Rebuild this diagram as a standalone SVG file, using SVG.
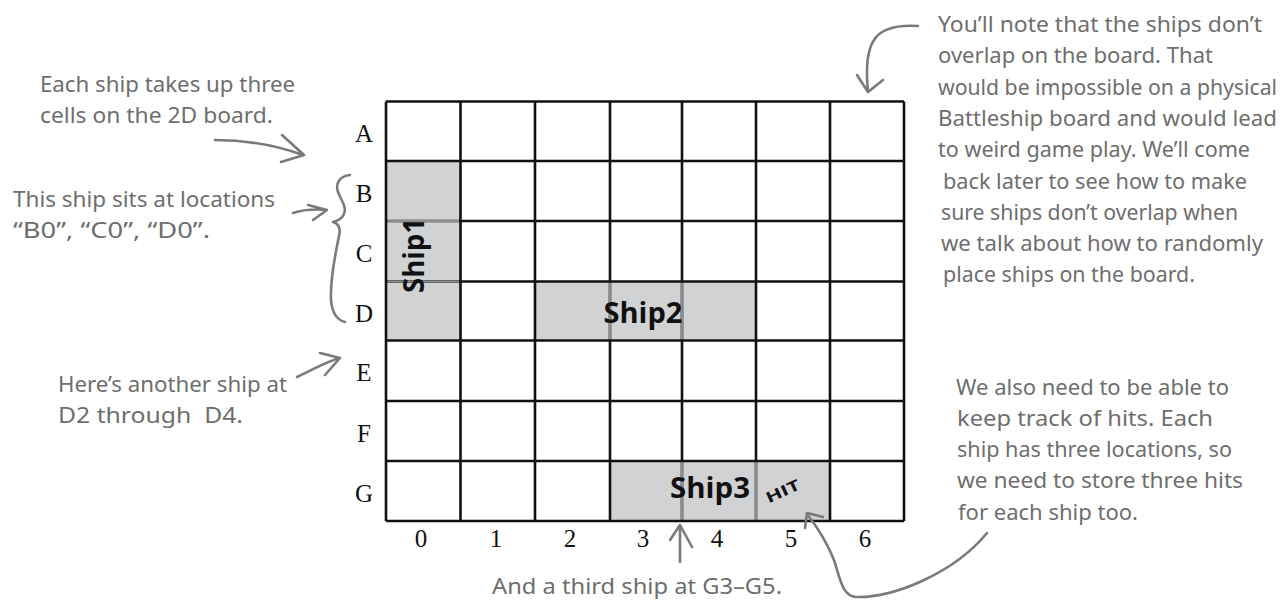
<svg xmlns="http://www.w3.org/2000/svg" width="1288" height="603" viewBox="0 0 1288 603">
<style>
.hand{font-family:"Noto Sans","Open Sans",sans-serif;font-size:21px;fill:#6e6e6e;}
.lbl{font-family:"Liberation Serif","Times New Roman",serif;font-size:25px;fill:#111;}
.ship{font-family:"Open Sans","Noto Sans",sans-serif;font-weight:bold;font-size:29px;fill:#111;}
.grid{stroke:#111;stroke-width:2.6;fill:none;}
.inner{stroke:#8c8c8c;stroke-width:2.2;fill:none;}
.fill{fill:#d1d2d4;stroke:none;}
.conn{stroke:#7a7a7a;stroke-width:2.6;fill:none;stroke-linecap:round;stroke-linejoin:round;}
</style>
<rect width="1288" height="603" fill="#fff"/>
<g id="board">
<rect class="fill" x="386" y="161" width="74.5" height="179.5"/>
<rect class="fill" x="535" y="281.5" width="221" height="59"/>
<rect class="fill" x="610" y="461" width="220" height="60"/>
<path class="grid" d="M386,101.5H904M386,161H904M386,221H904M386,281.5H904M386,340.5H904M386,401H904M386,461H904M386,521H904M386,101.5V521M460.5,101.5V521M535,101.5V521M610,101.5V521M682,101.5V521M756,101.5V521M830,101.5V521M904,101.5V521"/>
<path class="inner" d="M387.5,221H459M387.5,281.5H459M610,282.8V339.2M682,282.8V339.2M682,462.3V519.7M756,462.3V519.7"/>
</g>
<g id="row-labels" class="lbl" text-anchor="middle">
<text x="364" y="142">A</text>
<text x="364" y="202">B</text>
<text x="364" y="262">C</text>
<text x="364" y="322">D</text>
<text x="364" y="381">E</text>
<text x="364" y="442">F</text>
<text x="364" y="502">G</text>
</g>
<g id="col-labels" class="lbl" text-anchor="middle">
<text x="421" y="547">0</text>
<text x="496" y="547">1</text>
<text x="570" y="547">2</text>
<text x="643" y="547">3</text>
<text x="717" y="547">4</text>
<text x="791" y="547">5</text>
<text x="865" y="547">6</text>
</g>
<g id="ship1"><text class="ship" transform="translate(424,255.5) rotate(-90)" text-anchor="middle" textLength="75" lengthAdjust="spacingAndGlyphs">Ship1</text></g>
<g id="ship2"><text class="ship" x="603.5" y="323.3" textLength="79" lengthAdjust="spacingAndGlyphs">Ship2</text></g>
<g id="ship3"><text class="ship" x="670" y="498" textLength="80" lengthAdjust="spacingAndGlyphs">Ship3</text></g>
<g id="hit"><text transform="translate(785,496) rotate(-25)" text-anchor="middle" font-family="Open Sans, sans-serif" font-weight="bold" font-size="15" fill="#111" textLength="36" lengthAdjust="spacingAndGlyphs">HIT</text></g>
<g id="note-cells" class="hand">
<text x="40" y="92" textLength="255" lengthAdjust="spacingAndGlyphs">Each ship takes up three</text>
<text x="40" y="123" textLength="233" lengthAdjust="spacingAndGlyphs">cells on the 2D board.</text>
</g>
<g id="note-ship1" class="hand">
<text x="13" y="207" textLength="262" lengthAdjust="spacingAndGlyphs">This ship sits at locations</text>
<text x="13" y="238" textLength="197" lengthAdjust="spacingAndGlyphs">“B0”, “C0”, “D0”.</text>
</g>
<g id="note-ship2" class="hand">
<text x="58" y="392" textLength="229" lengthAdjust="spacingAndGlyphs">Here’s another ship at</text>
<text x="58" y="423" textLength="185" lengthAdjust="spacingAndGlyphs" xml:space="preserve">D2 through  D4.</text>
</g>
<g id="note-ship3" class="hand">
<text x="492" y="594" textLength="290" lengthAdjust="spacingAndGlyphs">And a third ship at G3–G5.</text>
</g>
<g id="note-overlap" class="hand">
<text x="938" y="32" textLength="324" lengthAdjust="spacingAndGlyphs">You’ll note that the ships don’t</text>
<text x="938" y="63.3" textLength="275" lengthAdjust="spacingAndGlyphs">overlap on the board. That</text>
<text x="938" y="94.6" textLength="339" lengthAdjust="spacingAndGlyphs">would be impossible on a physical</text>
<text x="938" y="125.9" textLength="339" lengthAdjust="spacingAndGlyphs">Battleship board and would lead</text>
<text x="938" y="157.2" textLength="312" lengthAdjust="spacingAndGlyphs">to weird game play. We’ll come</text>
<text x="943" y="188.5" textLength="304" lengthAdjust="spacingAndGlyphs">back later to see how to make</text>
<text x="941" y="219.8" textLength="297" lengthAdjust="spacingAndGlyphs">sure ships don’t overlap when</text>
<text x="941" y="251.1" textLength="322" lengthAdjust="spacingAndGlyphs">we talk about how to randomly</text>
<text x="943" y="282.4" textLength="252" lengthAdjust="spacingAndGlyphs">place ships on the board.</text>
</g>
<g id="note-hits" class="hand">
<text x="956" y="395" textLength="273" lengthAdjust="spacingAndGlyphs">We also need to be able to</text>
<text x="957" y="426" textLength="256" lengthAdjust="spacingAndGlyphs">keep track of hits. Each</text>
<text x="957" y="457" textLength="275" lengthAdjust="spacingAndGlyphs">ship has three locations, so</text>
<text x="957" y="488" textLength="286" lengthAdjust="spacingAndGlyphs">we need to store three hits</text>
<text x="958" y="520" textLength="180" lengthAdjust="spacingAndGlyphs">for each ship too.</text>
</g>
<g id="connectors" class="conn">
<path d="M215,140 C245,140 275,145 303,155 M282,135 L304,155 L281,162"/>
<path d="M350,175 C340,176 335,183 338,192 C341,200 347,207 344,214 C342,219 337,221 333,222 C338,223 341,228 339,236 C335,255 330,280 331,300 C332,312 337,320 345,322"/>
<path d="M293,213 C305,209 315,209 327,210 M308,205 L327,210 L313,220"/>
<path d="M297,377 C312,370 325,362 340,358 M320,353 L340,358 L325,375"/>
<path d="M918,26 C900,25 882,27 874,40 C866,52 866,72 868,92 M857,75 L868,92 L883,80"/>
<path d="M680,562 L680,526 M670,540 L680,525 L692,547"/>
<path d="M987,533 C955,572 895,598 856,597 C842,596 840,578 834,560 C828,545 818,528 807,514 M823,517 L807,513 L805,528"/>
</g>
</svg>
